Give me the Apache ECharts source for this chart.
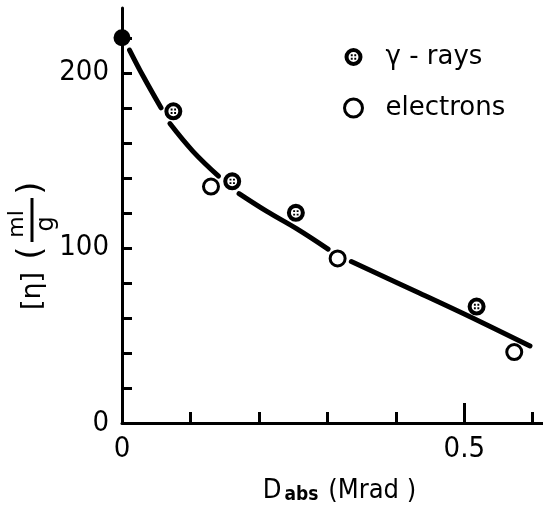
<!DOCTYPE html>
<html>
<head>
<meta charset="utf-8">
<script src="https://cdn.jsdelivr.net/npm/echarts@6/dist/echarts.min.js"></script>
<style>
html,body{margin:0;padding:0;background:#fff;}
#chart{width:543px;height:510px;}
</style>
</head>
<body>
<div id="chart"></div>
<script>
// ---- data ----
const gammaX = [0.075, 0.161, 0.254, 0.518];
const gammaY = [178, 138, 120, 66.5];
const electronX = [0.130, 0.315, 0.573];
const electronY = [135, 94, 40.5];
const startX = [0];
const startY = [220];
// fitted curve, drawn in pieces (gaps left around the markers)
const curveSegX = [
  [0.011, 0.031, 0.057],
  [0.070, 0.104, 0.141],
  [0.171, 0.211, 0.255, 0.301],
  [0.335, 0.435, 0.513, 0.596]
];
const curveSegY = [
  [213, 198, 180],
  [171, 155, 141],
  [131, 121, 111, 99.3],
  [92.2, 74.1, 59.8, 44]
];
const xTicks = [0, 0.1, 0.2, 0.3, 0.4, 0.5, 0.6];
const xLabels = [0, 0.5];
const xMajorTicks = [0.5];
const yTicks = [0, 20, 40, 60, 80, 100, 120, 140, 160, 180, 200, 220];
const yLabels = [0, 100, 200];
const seriesNames = ['γ - rays', 'electrons'];

const zip = (xs, ys) => xs.map((x, i) => [x, ys[i]]);

const NUM_FONT = '"Liberation Sans Narrow", "DejaVu Sans Condensed", "DejaVu Sans", sans-serif';
const TXT_FONT = '"DejaVu Sans", sans-serif';

const gammaPath = 'path://M8 0A8 8 0 1 1 8 16A8 8 0 1 1 8 0Z M8 3.6A4.4 4.4 0 1 0 8 12.4A4.4 4.4 0 1 0 8 3.6Z M5.6 5.6h1.7v1.7h-1.7Z M8.7 5.6h1.7v1.7h-1.7Z M5.6 8.7h1.7v1.7h-1.7Z M8.7 8.7h1.7v1.7h-1.7Z';

const series = [];
curveSegX.forEach((xs, i) => {
  series.push({
    type: 'line', name: 'curve' + i, data: zip(xs, curveSegY[i]),
    smooth: 0.4, showSymbol: false, symbol: 'none', silent: true,
    lineStyle: { color: '#000', width: 5, cap: 'round' }, z: 2
  });
});
series.push({
  type: 'scatter', name: seriesNames[0], data: zip(gammaX, gammaY),
  symbol: gammaPath, symbolSize: 18, symbolKeepAspect: true,
  itemStyle: { color: '#000', opacity: 1 }, z: 5
});
series.push({
  type: 'scatter', name: seriesNames[1], data: zip(electronX, electronY),
  symbol: 'circle', symbolSize: 15,
  itemStyle: { color: '#fff', borderColor: '#000', borderWidth: 3, opacity: 1 }, z: 5
});
series.push({
  type: 'scatter', name: 'start', data: zip(startX, startY),
  symbol: 'circle', symbolSize: 17, itemStyle: { color: '#000', opacity: 1 }, z: 6
});

const chart = echarts.init(document.getElementById('chart'), null, { renderer: 'canvas' });
chart.setOption({
  animation: false,
  backgroundColor: '#fff',
  grid: { left: 122, right: 0, top: 8, bottom: 87, containLabel: false, outerBoundsMode: 'none' },
  legend: {
    data: [
      { name: seriesNames[0], icon: gammaPath, itemStyle: { color: '#000', opacity: 1 } },
      { name: seriesNames[1], icon: 'circle', itemStyle: { color: '#fff', borderColor: '#000', borderWidth: 3, opacity: 1 } }
    ],
    orient: 'vertical', left: 338, top: 39,
    itemWidth: 18, itemHeight: 18, itemGap: 25,
    textStyle: { fontFamily: TXT_FONT, fontSize: 26, color: '#000', padding: [0, 0, 0, 18], lineHeight: 26 },
    selectedMode: false
  },
  xAxis: [{
    type: 'value', min: 0, max: 0.615,
    name: 'D{sub|abs} (Mrad )', nameLocation: 'middle', nameGap: 53,
    nameTextStyle: {
      fontFamily: NUM_FONT, fontSize: 27, color: '#000', padding: [0, 0, 0, 14],
      rich: { sub: { fontFamily: NUM_FONT, fontSize: 19, fontWeight: 'bold', color: '#000', padding: [10, 2, 0, 3] } }
    },
    axisLine: { show: true, onZero: false, lineStyle: { color: '#000', width: 3 } },
    axisTick: { show: true, inside: true, length: 11, customValues: xTicks, lineStyle: { color: '#000', width: 3 } },
    axisLabel: { show: true, customValues: xLabels, margin: 12, color: '#000', fontFamily: NUM_FONT, fontSize: 29,
      formatter: v => String(v) },
    splitLine: { show: false }
  }, {
    type: 'value', min: 0, max: 0.615, position: 'bottom', gridIndex: 0,
    axisLine: { show: false },
    axisTick: { show: true, inside: true, length: 20, customValues: xMajorTicks, lineStyle: { color: '#000', width: 3 } },
    axisLabel: { show: false },
    splitLine: { show: false }
  }],
  yAxis: {
    type: 'value', min: 0, max: 237,
    axisLine: { show: true, onZero: false, lineStyle: { color: '#000', width: 3 } },
    axisTick: { show: true, inside: true, length: 10, customValues: yTicks, lineStyle: { color: '#000', width: 3 } },
    axisLabel: { show: true, customValues: yLabels, margin: 13, color: '#000', fontFamily: NUM_FONT, fontSize: 29,
      formatter: v => String(v) },
    splitLine: { show: false }
  },
  graphic: [{
    type: 'group', x: 33, y: 250, rotation: Math.PI / 2, silent: true,
    children: [
      { type: 'text', x: -41, y: 0, style: { text: '[η]', fontFamily: TXT_FONT, fontSize: 27, fill: '#000', align: 'center', verticalAlign: 'middle' } },
      { type: 'text', x: -3, y: -1, style: { text: '(', fontFamily: TXT_FONT, fontSize: 34, fill: '#000', align: 'center', verticalAlign: 'middle' } },
      { type: 'text', x: 26, y: -16, style: { text: 'ml', fontFamily: TXT_FONT, fontSize: 22, fill: '#000', align: 'center', verticalAlign: 'middle' } },
      { type: 'rect', shape: { x: 8, y: -2.5, width: 44, height: 3 }, style: { fill: '#000' } },
      { type: 'text', x: 26, y: 14, style: { text: 'g', fontFamily: TXT_FONT, fontSize: 24, fill: '#000', align: 'center', verticalAlign: 'middle' } },
      { type: 'text', x: 62, y: -1, style: { text: ')', fontFamily: TXT_FONT, fontSize: 34, fill: '#000', align: 'center', verticalAlign: 'middle' } }
    ]
  }],
  series: series
});
</script>
</body>
</html>
